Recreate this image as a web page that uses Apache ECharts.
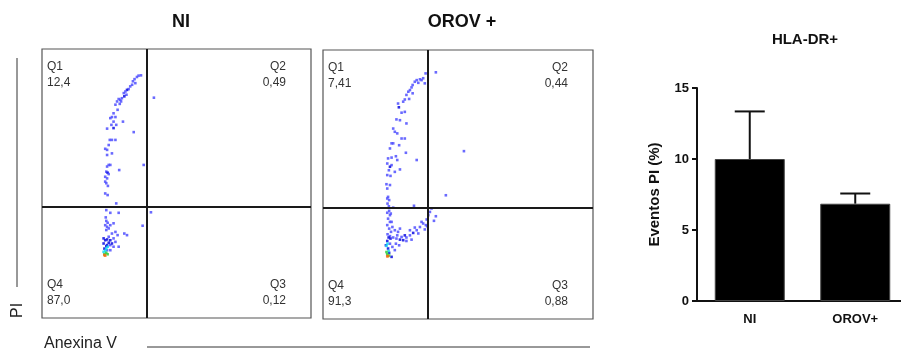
<!DOCTYPE html>
<html>
<head>
<meta charset="utf-8">
<script src="https://cdn.jsdelivr.net/npm/echarts@6/dist/echarts.min.js"></script>
<style>
  html, body { margin: 0; padding: 0; background: #fff; }
  #chart { width: 901px; height: 354px; }
</style>
</head>
<body>
<div id="chart"></div>
<script>
// painel de citometria: eixos 0-100, [x, y, nivel de densidade 0..4]
var niPoints = [
  [36.8,90.2,0],[35.9,90.1,0],[35.3,89.6,0],[34.4,88.8,0],[33.8,88.0,0],[34.7,87.3,0],[33.5,86.7,0],
  [32.8,86.1,0],[32.2,85.1,0],[31.6,84.8,1],[31.0,84.2,0],[30.4,83.6,0],[31.4,83.0,0],[30.6,82.4,1],
  [29.7,81.7,0],[29.1,81.1,0],[28.5,81.4,0],[27.9,80.5,0],[29.4,80.5,0],[28.9,79.6,0],[27.3,79.3,0],
  [28.1,77.4,0],[26.6,76.1,0],[26.0,74.7,0],[27.3,74.7,0],[25.4,74.3,0],[26.6,73.0,0],[25.8,71.8,0],
  [27.6,71.8,0],[24.2,70.4,0],[26.6,70.6,1],[30.1,73.0,0],[34.1,69.1,0],[25.2,66.2,0],[26.0,66.2,0],
  [27.3,66.2,0],[24.8,64.3,0],[23.5,62.9,0],[24.2,62.5,0],[26.0,61.2,0],[24.2,60.6,0],[24.8,56.9,0],
  [24.2,56.3,0],[25.4,56.9,0],[23.9,54.4,0],[24.4,54.0,1],[28.7,55.0,0],[23.5,52.5,0],[24.2,51.9,0],
  [24.8,53.5,0],[23.5,50.7,0],[23.9,50.1,0],[24.5,49.1,0],[23.5,46.3,0],[24.4,45.7,0],[37.8,56.9,0],
  [41.6,81.9,0],[27.6,42.6,0],
  [23.9,40.1,0],[25.4,39.1,0],[28.5,39.1,0],[40.5,39.3,0],[23.7,37.4,0],[23.9,36.1,0],[24.4,35.4,0],
  [23.5,34.5,0],[24.2,33.9,0],[24.8,33.3,0],[23.9,32.7,0],[25.4,34.5,0],[26.6,35.2,0],[37.4,34.3,0],
  [26.0,31.4,0],[27.3,32.0,0],[30.6,31.4,0],[31.6,30.8,0],[28.1,30.8,0],[24.8,30.2,0],[26.6,29.6,0],
  [27.3,28.3,0],[25.4,27.1,0],[26.6,26.5,0],[28.5,26.5,0],[24.2,25.2,0],[25.4,25.2,0],
  [22.9,29.6,1],[23.5,28.9,1],[24.2,29.2,1],[25.4,28.9,1],[22.9,27.7,1],[24.2,27.1,1],[23.2,25.8,1],
  [23.9,26.7,1],[24.8,28.0,1],[26.0,27.7,1],
  [23.9,25.8,2],[23.5,25.0,2],[24.4,26.5,2],[22.9,24.6,2],
  [23.9,24.2,3],[23.2,23.7,3],[24.4,23.7,3],
  [23.2,23.4,4],[23.5,23.2,4]
];
var orovPoints = [
  [38.0,91.3,0],[41.8,91.7,0],[37.1,89.5,0],[36.5,88.8,0],[35.9,89.1,0],[34.7,88.8,0],[34.0,88.2,0],
  [35.3,87.8,0],[37.7,87.6,0],[33.2,87.0,0],[32.8,86.1,0],[32.2,85.1,0],[31.6,84.5,0],[33.2,83.9,0],
  [30.9,83.3,0],[30.3,81.6,0],[31.9,81.8,0],[29.7,80.8,0],[27.8,80.1,0],[28.1,78.7,1],[30.3,77.0,0],
  [29.1,76.7,0],[27.2,74.2,0],[28.5,73.9,0],[30.9,72.7,0],[26.0,70.8,0],[26.6,69.6,0],[27.5,69.0,0],
  [29.1,67.1,0],[30.3,67.1,0],[25.4,65.3,0],[26.0,65.3,0],[28.2,64.6,0],[30.7,61.8,0],[24.8,63.4,0],
  [24.1,59.7,0],[25.4,60.0,0],[27.0,60.5,0],[27.5,59.1,0],[34.7,59.1,0],[23.8,57.8,0],[25.4,57.2,0],
  [24.8,56.6,1],[28.5,55.6,0],[24.4,55.3,0],[26.6,54.7,0],[23.8,53.5,0],[25.0,53.2,0],[23.5,50.1,0],
  [24.8,49.8,0],[23.8,48.5,0],[24.1,45.4,0],[23.8,44.8,0],[24.5,44.2,0],[23.9,42.9,0],[24.4,41.9,0],
  [52.2,62.4,0],[45.5,46.0,0],[33.7,42.1,0],[26.0,41.4,0],
  [24.5,40.2,0],[23.8,39.5,0],[24.8,38.6,0],[24.1,37.3,0],[25.4,36.1,0],[23.8,34.9,0],[24.5,33.6,0],
  [25.2,32.4,0],[23.9,31.5,0],[24.8,30.8,0],[26.0,30.3,0],[27.2,29.9,0],[28.5,29.5,1],[29.7,29.3,1],
  [30.9,30.3,0],[32.2,31.1,0],[33.4,32.0,1],[34.7,33.0,0],[35.9,34.2,0],[37.1,35.5,0],[38.4,37.0,0],
  [39.0,38.6,0],[39.6,39.8,0],[40.2,41.1,0],[41.8,38.2,0],[41.1,36.5,0],[37.7,33.3,0],[35.3,31.8,0],
  [32.8,29.5,0],[30.9,29.0,0],[29.1,30.5,0],[27.8,32.4,0],[28.5,33.6,0],[26.6,33.0,0],[25.7,34.2,0],
  [27.0,28.0,0],[28.2,27.4,0],[25.7,26.8,0],[24.8,28.0,0],[27.5,31.1,0],[30.3,31.1,1],[32.2,33.0,0],
  [34.0,34.0,0],[36.5,36.1,0],[38.1,34.9,0],[38.6,34.5,0],[24.8,36.1,0],[25.1,39.2,0],[26.6,25.6,0],
  [23.8,29.0,1],[23.3,27.4,1],[24.1,26.2,1],[24.5,24.6,1],[25.4,23.1,1],[25.0,29.9,1],[24.3,30.3,1],
  [23.5,27.2,2],[23.9,28.0,2],[24.3,25.3,2],
  [23.5,24.9,3],[23.8,24.1,3],[24.5,23.6,3],
  [23.8,23.3,4],[24.1,23.4,4]
];
var quadNI = [38.8, 41.5];
var quadOROV = [38.9, 41.5];
var quadNames = ['Q1', 'Q2', 'Q3', 'Q4'];
var quadNIValues = ['12,4', '0,49', '0,12', '87,0'];
var quadOROVValues = ['7,41', '0,44', '0,88', '91,3'];
var panelTitles = ['NI', 'OROV +'];

// grafico de barras
var barCategories = ['NI', 'OROV+'];
var barMeans = [10.0, 6.85];
var barErrors = [3.35, 0.72];
var barTicks = [0, 5, 10, 15];

var densityColors = ['#5050ff', '#0a0ae0', '#18d8f0', '#30d040', '#f07010'];
var font = '"Liberation Sans", Arial, sans-serif';

var panelGrids = [
  {left: 42, top: 49, width: 269, height: 269},
  {left: 323, top: 50, width: 270, height: 269}
];

function quadLabels(g, values) {
  var out = [];
  var l = g.left + 5, r = g.left + g.width - 25;
  var t = g.top + 18, b = g.top + g.height - 33;
  var pos = [[l, t, 'left'], [r, t, 'right'], [r, b, 'right'], [l, b, 'left']];
  for (var i = 0; i < 4; i++) {
    var st = {fill: '#333', font: '12px ' + font, align: pos[i][2], verticalAlign: 'middle'};
    out.push({type: 'text', x: pos[i][0], y: pos[i][1],
      style: Object.assign({text: quadNames[i]}, st)});
    out.push({type: 'text', x: pos[i][0], y: pos[i][1] + 16,
      style: Object.assign({text: values[i]}, st)});
  }
  return out;
}

var graphics = [];
graphics = graphics.concat(quadLabels(panelGrids[0], quadNIValues));
graphics = graphics.concat(quadLabels(panelGrids[1], quadOROVValues));
graphics.push(
  {type: 'line', shape: {x1: 17, y1: 58, x2: 17, y2: 287}, style: {stroke: '#333', lineWidth: 1}},
  {type: 'text', x: 10, y: 318, rotation: Math.PI / 2,
    style: {text: 'PI', fill: '#222', font: '16px ' + font}},
  {type: 'text', left: 44, top: 336, style: {text: 'Anexina V', fill: '#222', font: '16px ' + font}},
  {type: 'line', shape: {x1: 147, y1: 347, x2: 590, y2: 347}, style: {stroke: '#333', lineWidth: 1}}
);

function scatterSeries(idx, pts, quad) {
  return {
    type: 'scatter', xAxisIndex: idx, yAxisIndex: idx, data: pts,
    symbol: 'rect', symbolSize: 2.6, silent: true,
    itemStyle: {
      color: function (p) { return densityColors[p.value[2]]; },
      opacity: 0.85
    },
    markLine: {
      silent: true, symbol: 'none', animation: false,
      label: {show: false},
      lineStyle: {color: '#1a1a1a', width: 2, type: 'solid'},
      data: [{xAxis: quad[0]}, {yAxis: quad[1]}]
    }
  };
}

var option = {
  animation: false,
  backgroundColor: '#fff',
  textStyle: {fontFamily: font},
  title: [
    {text: panelTitles[0], left: 176, top: 8, textAlign: 'center',
      textStyle: {fontSize: 18, fontWeight: 'bold', color: '#111', fontFamily: font}},
    {text: panelTitles[1], left: 457, top: 8, textAlign: 'center',
      textStyle: {fontSize: 18, fontWeight: 'bold', color: '#111', fontFamily: font}},
    {text: 'HLA-DR+', left: 800, top: 27, textAlign: 'center',
      textStyle: {fontSize: 15, fontWeight: 'bold', color: '#111', fontFamily: font}}
  ],
  grid: [
    {left: panelGrids[0].left, top: panelGrids[0].top, width: panelGrids[0].width, height: panelGrids[0].height,
      show: true, borderColor: '#555', borderWidth: 1.2, outerBoundsMode: 'none'},
    {left: panelGrids[1].left, top: panelGrids[1].top, width: panelGrids[1].width, height: panelGrids[1].height,
      show: true, borderColor: '#555', borderWidth: 1.2, outerBoundsMode: 'none'},
    {left: 697, top: 88, width: 211, height: 213, outerBoundsMode: 'none'}
  ],
  xAxis: [
    {gridIndex: 0, type: 'value', min: 0, max: 100, show: false},
    {gridIndex: 1, type: 'value', min: 0, max: 100, show: false},
    {gridIndex: 2, type: 'category', data: barCategories,
      axisLine: {lineStyle: {color: '#111', width: 2}},
      axisTick: {show: false},
      axisLabel: {color: '#111', fontWeight: 'bold', fontSize: 13, margin: 12, fontFamily: font}}
  ],
  yAxis: [
    {gridIndex: 0, type: 'value', min: 0, max: 100, show: false},
    {gridIndex: 1, type: 'value', min: 0, max: 100, show: false},
    {gridIndex: 2, type: 'value', min: barTicks[0], max: barTicks[barTicks.length - 1], interval: 5,
      name: 'Eventos PI (%)', nameLocation: 'middle', nameGap: 35, nameRotate: 90,
      nameTextStyle: {color: '#111', fontWeight: 'bold', fontSize: 15, fontFamily: font},
      axisLine: {show: true, lineStyle: {color: '#111', width: 2}},
      axisTick: {show: true, length: 5, lineStyle: {color: '#111', width: 2}},
      axisLabel: {color: '#111', fontWeight: 'bold', fontSize: 13, margin: 8, fontFamily: font},
      splitLine: {show: false}}
  ],
  series: [
    scatterSeries(0, niPoints, quadNI),
    scatterSeries(1, orovPoints, quadOROV),
    {
      type: 'bar', xAxisIndex: 2, yAxisIndex: 2, data: barMeans, barWidth: 70,
      itemStyle: {color: '#000', borderColor: '#444', borderWidth: 1}, silent: true
    },
    {
      type: 'custom', xAxisIndex: 2, yAxisIndex: 2, silent: true, z: 1,
      data: barMeans.map(function (m, i) { return [i, m, m + barErrors[i]]; }),
      renderItem: function (params, api) {
        var base = api.coord([api.value(0), api.value(1)]);
        var top = api.coord([api.value(0), api.value(2)]);
        var half = 15;
        var st = {stroke: '#111', lineWidth: 2};
        return {
          type: 'group',
          children: [
            {type: 'line', shape: {x1: base[0], y1: base[1], x2: top[0], y2: top[1]}, style: st},
            {type: 'line', shape: {x1: top[0] - half, y1: top[1], x2: top[0] + half, y2: top[1]}, style: st}
          ]
        };
      }
    }
  ],
  graphic: graphics
};

var myChart = echarts.init(document.getElementById('chart'));
myChart.setOption(option);
</script>
</body>
</html>
